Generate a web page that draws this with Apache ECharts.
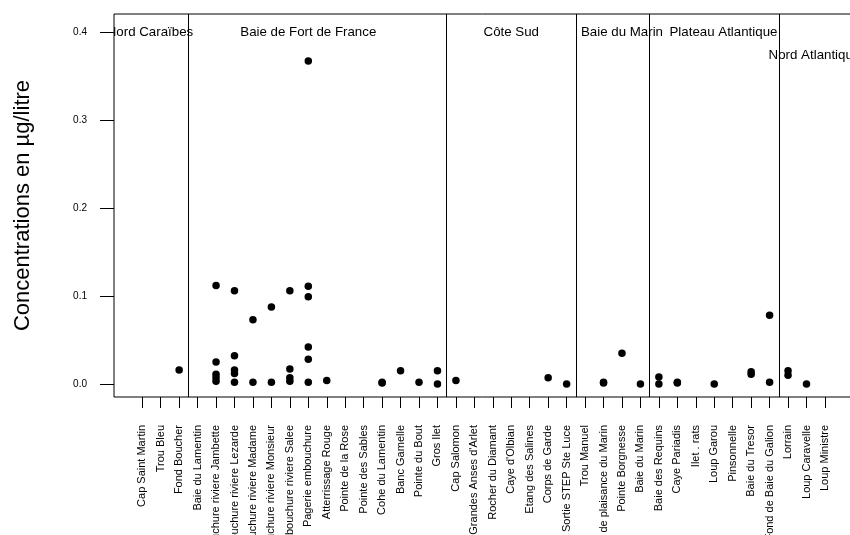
<!DOCTYPE html>
<html>
<head>
<meta charset="utf-8">
<script src="https://cdn.jsdelivr.net/npm/echarts@6/dist/echarts.min.js"></script>
<style>
  html, body { margin: 0; padding: 0; background: #fff; }
  #chart { width: 850px; height: 535px; }
</style>
</head>
<body>
<div id="chart"></div>
<script>
// Sampling stations, west to east, grouped by coastal zone
const stations = [
  'Cap Saint Martin', 'Trou Bleu', 'Fond Boucher',
  'Baie du Lamentin', 'Embouchure riviere Jambette', 'Embouchure riviere Lezarde',
  'Embouchure riviere Madame', 'Embouchure riviere Monsieur', 'Embouchure riviere Salee',
  'Pagerie embouchure', 'Atterrissage Rouge', 'Pointe de la Rose', 'Pointe des Sables',
  'Cohe du Lamentin', 'Banc Gamelle', 'Pointe du Bout', 'Gros Ilet',
  'Cap Salomon', "Grandes Anses d'Arlet", 'Rocher du Diamant', "Caye d'Olbian",
  'Etang des Salines', 'Corps de Garde', 'Sortie STEP Ste Luce',
  'Trou Manuel', 'Port de plaisance du Marin', 'Pointe Borgnesse', 'Baie du Marin',
  'Baie des Requins', 'Caye Pariadis', 'Ilet . rats', 'Loup Garou', 'Pinsonnelle',
  'Baie du Tresor', 'Fond de Baie du Galion',
  'Lorrain', 'Loup Caravelle', 'Loup Ministre'
];

// Measured concentrations (µg/litre), one list per station
const concentrations = [
  [], [], [0.016],
  [], [0.112, 0.025, 0.011, 0.007, 0.003], [0.106, 0.032, 0.016, 0.012, 0.002],
  [0.073, 0.002], [0.0875, 0.002], [0.106, 0.017, 0.007, 0.003],
  [0.367, 0.111, 0.099, 0.042, 0.028, 0.002], [0.004], [], [],
  [0.001, 0.002], [0.015], [0.002], [0.015, 0.0],
  [0.004], [], [], [],
  [], [0.007], [0.0],
  [], [0.001, 0.002], [0.035], [0.0],
  [0.008, 0.0], [0.001, 0.002], [], [0.0], [],
  [0.014, 0.011], [0.078, 0.002],
  [0.015, 0.010], [0.0]
];

// Zone names, their label anchors (station index, concentration) and the zone boundaries
const groupNames = ['Nord Caraïbes', 'Baie de Fort de France', 'Côte Sud', 'Baie du Marin', 'Plateau Atlantique', 'Nord Atlantique'];
const groupLabelX = [0.42, 9, 20, 26, 31.5, 36.43];
const groupLabelY = [0.4, 0.4, 0.4, 0.4, 0.4, 0.373];
const groupBreaks = [2.5, 16.5, 23.5, 27.5, 34.5];

const yTicks = [0, 0.1, 0.2, 0.3, 0.4];

const FONT = '"Liberation Sans", Arial, sans-serif';

const points = [];
concentrations.forEach((vals, i) => vals.forEach(v => points.push([i, v])));

const chart = echarts.init(document.getElementById('chart'), null, { renderer: 'canvas' });

chart.setOption({
  animation: false,
  backgroundColor: '#fff',
  textStyle: { fontFamily: FONT },
  grid: {
    left: 114, top: 14, right: -3, bottom: 138,
    containLabel: false,
    outerBoundsMode: 'none',
    show: true, borderColor: '#000', borderWidth: 1, backgroundColor: 'transparent'
  },
  xAxis: {
    type: 'value',
    min: -1.53, max: 38.52,
    splitLine: { show: false },
    axisLine: { show: false, onZero: false },
    axisTick: {
      show: true, inside: false, length: 11,
      lineStyle: { color: '#000', width: 1 },
      customValues: stations.map((_, i) => i)
    },
    axisLabel: {
      show: true, rotate: 90, margin: 28,
      fontFamily: FONT, fontSize: 11, color: '#000',
      customValues: stations.map((_, i) => i),
      formatter: v => stations[Math.round(v)] || ''
    }
  },
  yAxis: {
    type: 'value',
    min: -0.0148, max: 0.4205,
    splitLine: { show: false },
    axisLine: { show: false, onZero: false },
    axisTick: {
      show: true, inside: false, length: 14,
      lineStyle: { color: '#000', width: 1 },
      customValues: yTicks
    },
    axisLabel: {
      show: true, margin: 27,
      fontFamily: FONT, fontSize: 10, color: '#000',
      customValues: yTicks,
      formatter: v => v.toFixed(1)
    },
    name: 'Concentrations en µg/litre',
    nameLocation: 'middle',
    nameGap: 80,
    nameTextStyle: { fontFamily: FONT, fontSize: 22, color: '#000' }
  },
  series: [
    {
      // zone boundaries
      type: 'line',
      data: [],
      silent: true,
      markLine: {
        silent: true,
        symbol: 'none',
        label: { show: false },
        lineStyle: { color: '#000', width: 1, type: 'solid' },
        data: groupBreaks.map(x => ({ xAxis: x }))
      }
    },
    {
      // zone names, clipped to the plotting area
      type: 'custom',
      clip: true,
      silent: true,
      data: groupNames.map((n, i) => [groupLabelX[i], groupLabelY[i], n]),
      renderItem: (params, api) => {
        const p = api.coord([api.value(0), api.value(1)]);
        return {
          type: 'text',
          x: p[0], y: p[1],
          style: {
            text: groupNames[params.dataIndex],
            fill: '#000',
            font: '13.3px ' + FONT,
            align: 'center',
            verticalAlign: 'middle'
          }
        };
      }
    },
    {
      type: 'scatter',
      data: points,
      symbol: 'circle',
      symbolSize: 7.5,
      itemStyle: { color: '#000', opacity: 1 },
      z: 5
    }
  ]
});
</script>
</body>
</html>
